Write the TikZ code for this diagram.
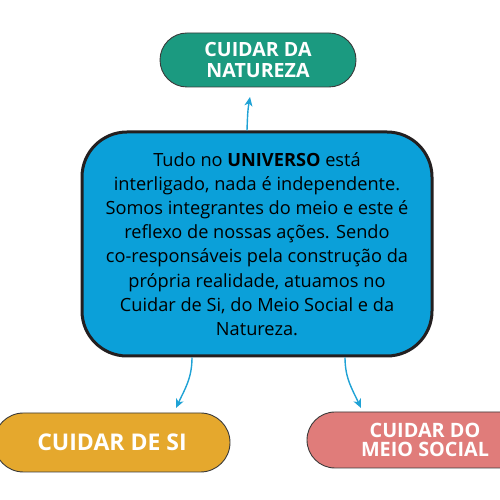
\documentclass[tikz,border=0pt]{standalone}
\usepackage{fontspec}
\setmainfont{Open Sans}
\usetikzlibrary{arrows.meta}
\definecolor{teal1}{HTML}{1B9A80}
\definecolor{gold1}{HTML}{E5A82D}
\definecolor{pink1}{HTML}{E07C7A}
\definecolor{blue1}{HTML}{0BA0D9}
\definecolor{arrowblue}{HTML}{1FA2D5}
\definecolor{edge1}{HTML}{3A3A3A}
\definecolor{edge2}{HTML}{231F20}
\tikzset{
  pill/.style={draw=edge1, line width=0.9pt, text=white, font=\bfseries, align=center, inner sep=0pt},
  mainbox/.style={draw=edge2, line width=3pt, fill=blue1, rounded corners=45pt, minimum width=350pt, minimum height=224pt, align=center, inner sep=0pt, font=\fontsize{18.2}{24.2}\selectfont},
  conn/.style={draw=arrowblue, line width=1.4pt, -{Stealth[length=9pt,width=8pt,inset=2.5pt]}}
}
\begin{document}
\begin{tikzpicture}[x=1pt,y=1pt]
\useasboundingbox (0,0) rectangle (500,500);
\node[mainbox] (center) at (257,256) {Tudo no \textbf{UNIVERSO} está\\interligado, nada é independente.\\Somos integrantes do meio e este é\\reflexo de nossas ações. Sendo\\co-responsáveis pela construção da\\própria realidade, atuamos no\\Cuidar de Si, do Meio Social e da\\Natureza.};
\node[pill, fill=teal1, rounded corners=27pt, minimum width=196pt, minimum height=54pt, font=\bfseries\fontsize{19.6}{21}\selectfont] (nat) at (258,440) {CUIDAR DA\\NATUREZA};
\node[pill, fill=gold1, rounded corners=29.5pt, minimum width=236pt, minimum height=59pt, font=\bfseries\fontsize{23}{26}\selectfont] (si) at (112,57.5) {CUIDAR DE SI};
\node[pill, fill=pink1, rounded corners=28pt, minimum width=236pt, minimum height=56pt, font=\bfseries\fontsize{19.8}{19}\selectfont] (social) at (425,60) {CUIDAR DO\\MEIO SOCIAL};
\coordinate (tnat) at (250,403);
\coordinate (tsi) at (176,92);
\coordinate (tsoc) at (361,92);
\draw[conn] (center.north -| 247,0) to[out=88,in=-100] (tnat);
\draw[conn] (center.south -| 192,0) to[out=-90,in=65] (tsi);
\draw[conn] (center.south -| 345,0) to[out=-90,in=115] (tsoc);
\end{tikzpicture}
\end{document}
